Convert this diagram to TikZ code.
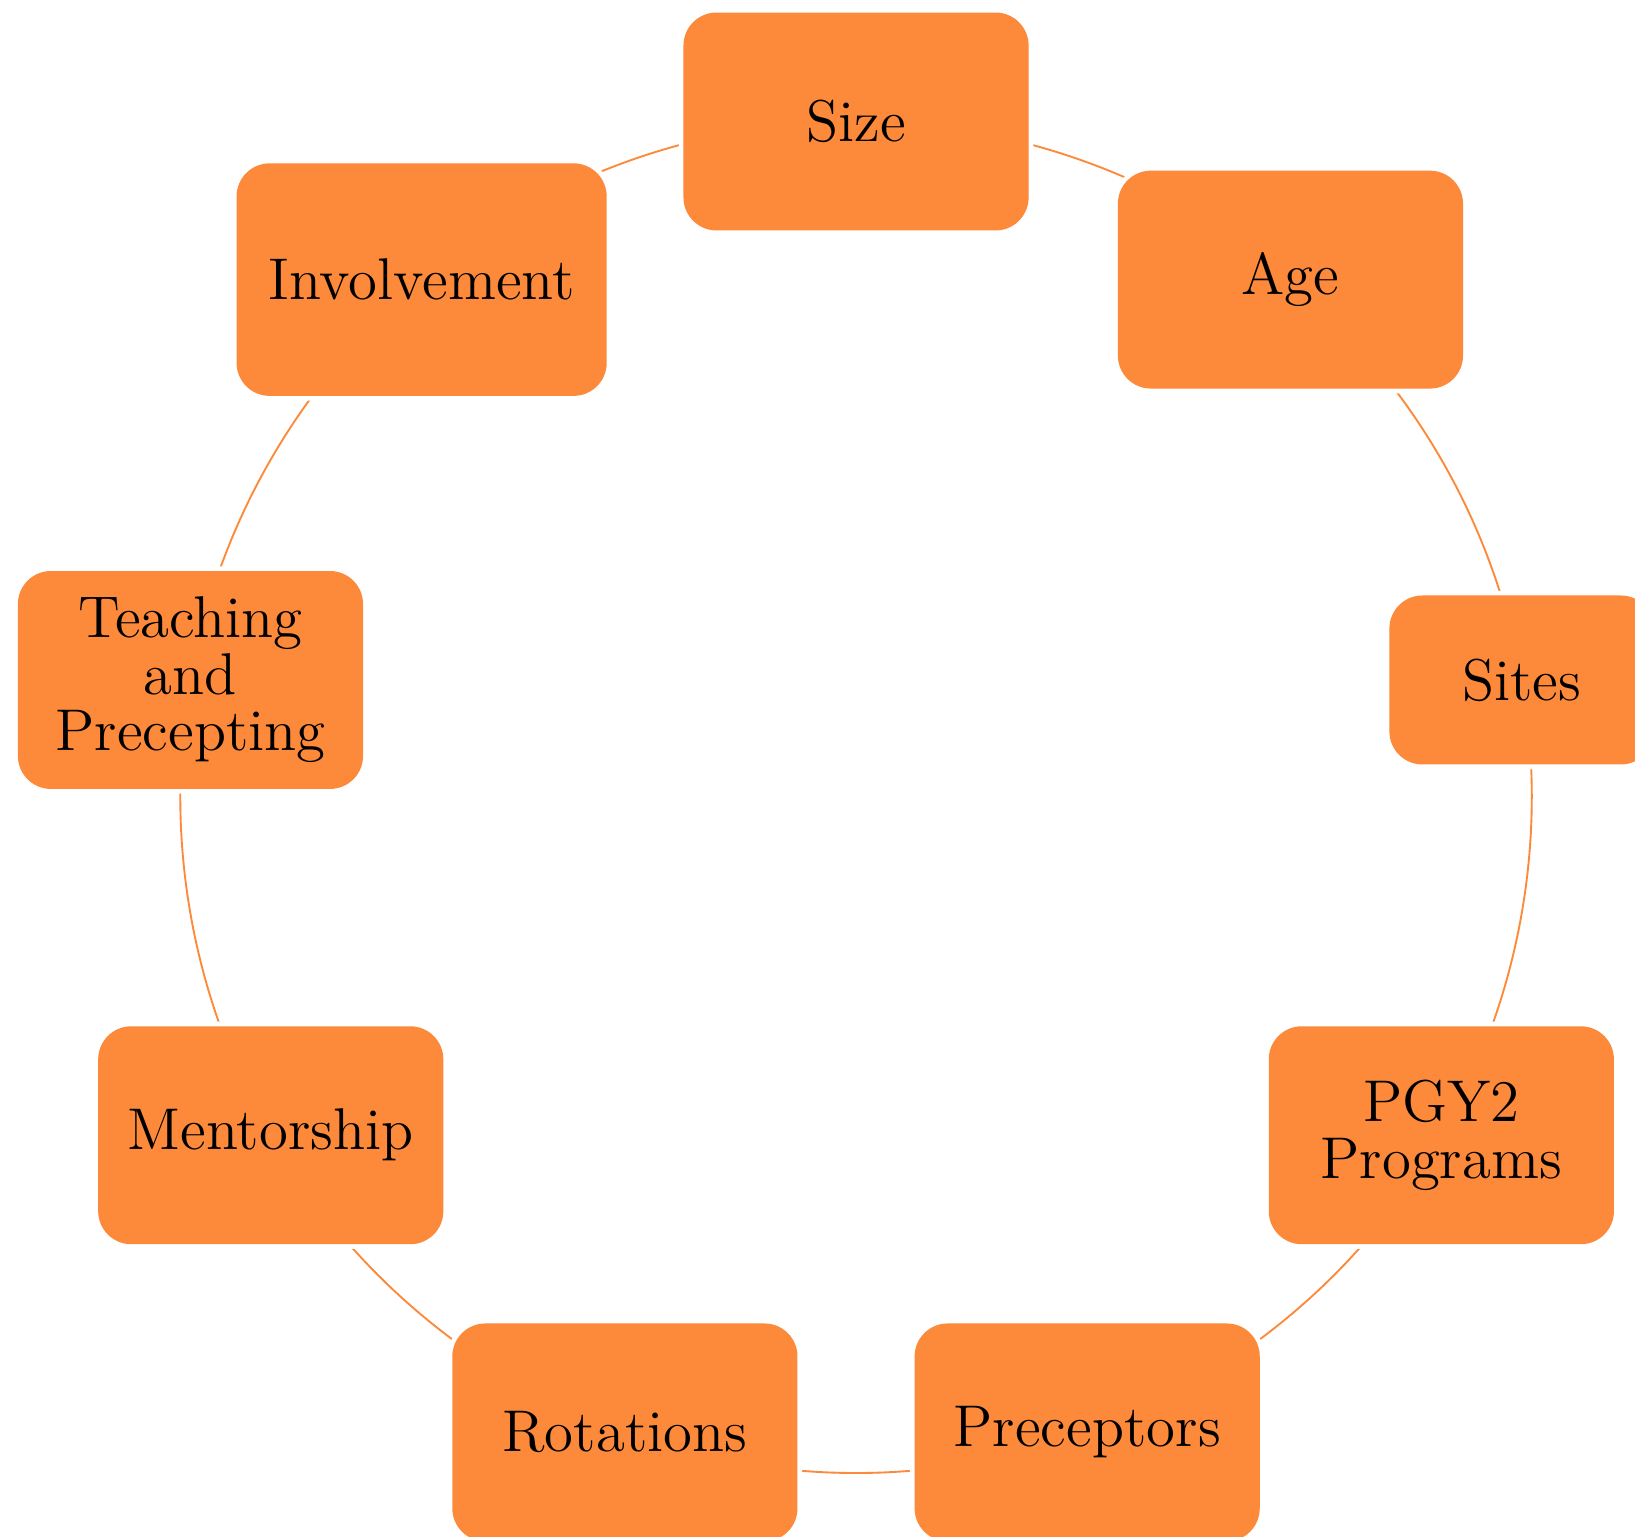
\documentclass[tikz,border=0pt]{standalone}
\usepackage{xcolor}
\usepackage{tikz}
\usetikzlibrary{positioning}
\definecolor{boxorange}{RGB}{253,137,58}
\pgfdeclarelayer{bg}
\pgfsetlayers{bg,main}

\begin{document}
\begin{tikzpicture}[
item/.style={rectangle, rounded corners=7pt, fill=boxorange, text=black, align=center,
  font=\fontsize{12.5}{12}\selectfont, minimum width=2.574cm, minimum height=1.625cm,
  preaction={draw=white, line width=2pt}},
smallitem/.style={item, minimum width=1.972cm, minimum height=1.26cm},
wideitem/.style={item, minimum width=2.76cm, minimum height=1.734cm},
link/.style={draw=boxorange, line width=0.4pt, bend left=20, looseness=0.878}
]
\useasboundingbox (-6.384,-5.516) rectangle (5.809,5.946);

%Nodes
\node[item] (size) at (90:5.04) {Size};
\node[item] (age) at (50:5.04) {Age};
\node[smallitem] (sites) at (10:5.04) {Sites};
\node[item] (pgy2) at (-30:5.04) {PGY2\\Programs};
\node[item] (preceptors) at (-70:5.04) {Preceptors};
\node[item] (rotations) at (-110:5.04) {Rotations};
\node[item] (mentorship) at (-150:5.04) {Mentorship};
\node[item] (teaching) at (170:5.04) {Teaching\\and\\Precepting};
\node[wideitem] (involvement) at (130:5.04) {Involvement};

%Connections
\begin{pgfonlayer}{bg}
\draw[link] (size.center) to (age.center);
\draw[link] (age.center) to (sites.center);
\draw[link] (sites.center) to (pgy2.center);
\draw[link] (pgy2.center) to (preceptors.center);
\draw[link] (preceptors.center) to (rotations.center);
\draw[link] (rotations.center) to (mentorship.center);
\draw[link] (mentorship.center) to (teaching.center);
\draw[link] (teaching.center) to (involvement.center);
\draw[link] (involvement.center) to (size.center);
\end{pgfonlayer}
\end{tikzpicture}
\end{document}
